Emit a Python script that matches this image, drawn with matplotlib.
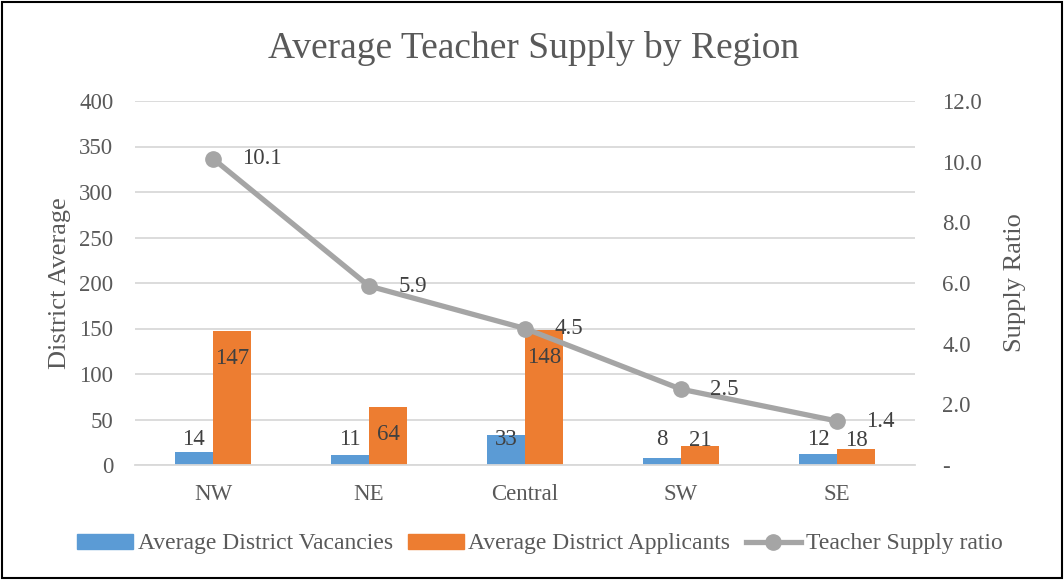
import matplotlib
matplotlib.use("Agg")
import matplotlib.pyplot as plt
from matplotlib.patches import Rectangle
from matplotlib.lines import Line2D
from matplotlib.patches import Patch
import numpy as np

plt.rcParams['font.family'] = ['Liberation Serif', 'DejaVu Serif']

regions = ["NW", "NE", "Central", "SW", "SE"]
vacancies = [14, 11, 33, 8, 12]
applicants = [147, 64, 148, 21, 18]
supply_ratio = [10.1, 5.9, 4.5, 2.5, 1.45]
ratio_labels = ["10.1", "5.9", "4.5", "2.5", "1.4"]

left_ticks = [0, 50, 100, 150, 200, 250, 300, 350, 400]
right_ticks = [0, 2, 4, 6, 8, 10, 12]

BLUE = "#5B9BD5"
ORANGE = "#ED7D31"
GRAY = "#A5A5A5"
TXT = "#595959"
GRID = "#D9D9D9"
LBL = "#404040"

fig = plt.figure(figsize=(10.64, 5.8), dpi=100)
ax = fig.add_axes([135/1064, 1-465/580, 780/1064, 364/580])
ax2 = ax.twinx()

x = np.arange(len(regions))
w = 0.245
ax.bar(x - w/2, vacancies, w, color=BLUE, zorder=2)
ax.bar(x + w/2, applicants, w, color=ORANGE, zorder=2)

ax.set_xlim(-0.5, len(regions) - 0.5)
ax.set_ylim(0, 400)
ax.set_yticks(left_ticks)
ax.set_yticklabels([str(t) for t in left_ticks])
ax.grid(axis='y', color=GRID, linewidth=1.3, zorder=0)
ax.set_axisbelow(True)
ax.set_xticks(x)
ax.set_xticklabels(regions)
for s in ['top', 'left', 'right']:
    ax.spines[s].set_visible(False)
ax.spines['bottom'].set_color(GRID)
ax.spines['bottom'].set_linewidth(1.3)
ax.tick_params(axis='both', length=0, labelsize=16.5, labelcolor=TXT)
ax.tick_params(axis='y', pad=15.5)
ax.tick_params(axis='x', pad=14)

for xi, v in zip(x, vacancies):
    ax.text(xi - w/2, 28.5, str(v), ha='center', va='center', fontsize=16.5, color=LBL, zorder=4)
for xi, v in zip(x, applicants):
    ax.text(xi + w/2, max(v - 30, 27), str(v), ha='center', va='center', fontsize=16.5, color=LBL, zorder=4)

ax2.plot(x, supply_ratio, color=GRAY, linewidth=3.8, marker='o', markersize=11, zorder=3)
ax2.set_ylim(0, 12)
ax2.set_yticks(right_ticks)
ax2.set_yticklabels(['-' if t == 0 else f"{t:.1f}" for t in right_ticks])
for s in ['top', 'left', 'right', 'bottom']:
    ax2.spines[s].set_visible(False)
ax2.tick_params(axis='y', length=0, labelsize=16.5, labelcolor=TXT, pad=19.5)
for xi, v, lab in zip(x, supply_ratio, ratio_labels):
    ax2.annotate(lab, (xi, v), xytext=(21, 0), textcoords='offset points',
                 ha='left', va='center', fontsize=16.5, color=LBL)

fig.text(534/1064, 1-49/580, "Average Teacher Supply by Region", ha='center', va='center',
         fontsize=27, color=TXT)
fig.text(60/1064, 1-283/580, "District Average", rotation=90, ha='center', va='center',
         fontsize=19, color=TXT)
fig.text(1015/1064, 1-283/580, "Supply Ratio", rotation=90, ha='center', va='center',
         fontsize=19, color=TXT)

handles = [Patch(color=BLUE), Patch(color=ORANGE),
           Line2D([0], [0], color=GRAY, linewidth=3.8, marker='o', markersize=11)]
labels = ["Average District Vacancies", "Average District Applicants", "Teacher Supply ratio"]
leg = fig.legend(handles, labels, loc='center', bbox_to_anchor=(540/1064, 1-544/580), ncol=3,
                 frameon=False, fontsize=17, handlelength=2.35, handleheight=0.6,
                 handletextpad=0.2, columnspacing=0.65, labelcolor=TXT)

fig.add_artist(Rectangle((0.002, 0.003), 0.996, 0.994, transform=fig.transFigure,
                         fill=False, edgecolor='black', linewidth=1.5))

fig.savefig("out.png", dpi=100)
